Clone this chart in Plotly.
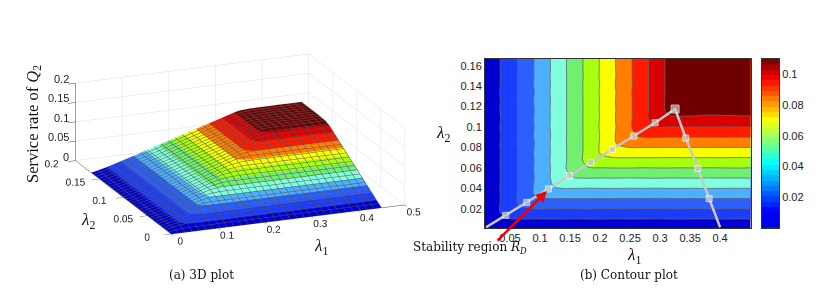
import plotly.graph_objects as go

lambda1 = [0, 0.0225, 0.045, 0.0675, 0.09, 0.1125, 0.135, 0.1575, 0.18, 0.2025, 0.225,
           0.2475, 0.27, 0.2925, 0.315, 0.3375, 0.36, 0.3825, 0.405, 0.4275, 0.451]
lambda2 = [0, 0.00835, 0.0167, 0.02505, 0.0334, 0.04175, 0.0501, 0.05845, 0.0668, 0.07515, 0.0835,
           0.09185, 0.1002, 0.10855, 0.1169, 0.12525, 0.1336, 0.14195, 0.1503, 0.15865, 0.167]
# service rate, in units of 1e-4, one row per lambda2
rate_e4 = [
 [0, 2, 2, 3, 3, 2, 3, 2, 3, 3, 2, 3, 2, 3, 2, 3, 3, 2, 3, 2, 3],
 [2, 64, 84, 85, 83, 84, 85, 83, 84, 86, 83, 84, 85, 83, 84, 85, 84, 83, 85, 84, 84],
 [2, 66, 137, 165, 167, 168, 166, 167, 169, 166, 167, 168, 166, 167, 168, 167, 166, 168, 167, 166, 167],
 [3, 63, 139, 219, 250, 252, 249, 251, 253, 250, 251, 252, 250, 249, 251, 252, 250, 251, 252, 250, 251],
 [2, 65, 136, 221, 301, 333, 336, 334, 333, 335, 334, 332, 335, 334, 333, 335, 334, 336, 333, 334, 335],
 [3, 64, 140, 217, 304, 386, 417, 419, 416, 418, 420, 417, 418, 416, 419, 418, 417, 420, 418, 417, 418],
 [2, 62, 138, 220, 299, 383, 466, 499, 503, 500, 502, 499, 501, 503, 500, 501, 502, 499, 501, 500, 502],
 [3, 66, 136, 218, 302, 381, 468, 549, 587, 584, 586, 588, 583, 585, 587, 584, 586, 583, 585, 587, 584],
 [2, 63, 139, 221, 300, 386, 463, 552, 631, 666, 670, 667, 669, 671, 666, 668, 670, 667, 669, 668, 667],
 [3, 65, 135, 217, 303, 382, 467, 546, 634, 714, 750, 754, 751, 748, 753, 752, 749, 754, 751, 750, 752],
 [2, 64, 140, 222, 298, 385, 465, 551, 628, 716, 796, 833, 836, 838, 833, 835, 837, 834, 835, 837, 834],
 [3, 62, 137, 218, 303, 380, 468, 547, 633, 711, 799, 878, 917, 921, 918, 920, 917, 919, 921, 918, 919],
 [2, 66, 138, 220, 300, 386, 464, 550, 630, 717, 794, 881, 961, 1003, 1000, 1004, 1001, 1002, 999, 1003, 1002],
 [3, 63, 135, 221, 302, 383, 467, 548, 632, 713, 798, 876, 963, 1043, 1085, 1088, 1084, 1080, 1083, 1086, 1087],
 [2, 65, 139, 217, 299, 385, 465, 551, 629, 715, 795, 880, 959, 1046, 1125, 1135, 1138, 1130, 1134, 1132, 1136],
 [3, 64, 136, 222, 304, 381, 468, 546, 633, 712, 798, 877, 963, 1041, 1128, 1140, 1146, 1141, 1138, 1144, 1140],
 [2, 66, 140, 218, 298, 386, 463, 552, 630, 716, 794, 881, 960, 1045, 1124, 1144, 1150, 1147, 1142, 1146, 1149],
 [3, 63, 137, 220, 303, 382, 467, 547, 634, 711, 799, 876, 962, 1042, 1127, 1141, 1148, 1152, 1150, 1147, 1151],
 [2, 65, 135, 221, 300, 385, 464, 551, 628, 717, 795, 880, 959, 1046, 1123, 1146, 1151, 1149, 1153, 1150, 1148],
 [3, 62, 139, 217, 302, 381, 468, 548, 632, 713, 797, 878, 963, 1041, 1128, 1143, 1147, 1152, 1149, 1153, 1150],
 [2, 64, 137, 220, 299, 384, 465, 550, 630, 715, 796, 879, 961, 1044, 1125, 1145, 1150, 1148, 1152, 1149, 1151],
]
rate = [[v / 10000 for v in row] for row in rate_e4]

boundary_lambda1 = [0.01, 0.0428, 0.0778, 0.1139, 0.1489, 0.1844, 0.2206, 0.2561, 0.2917, 0.325,
                    0.3428, 0.3628, 0.3817, 0.4]
boundary_lambda2 = [0.0018, 0.0135, 0.0262, 0.0393, 0.0523, 0.0654, 0.0781, 0.0912, 0.1042, 0.1176,
                    0.0892, 0.0595, 0.0298, 0.0018]

colorbar_levels = [0.0017, 0.0052, 0.0086, 0.012, 0.0155, 0.0189, 0.0223, 0.0258, 0.0292, 0.0327, 0.0361,
                   0.0395, 0.043, 0.0464, 0.0498, 0.0533, 0.0567, 0.0602, 0.0636, 0.067, 0.0705, 0.0739,
                   0.0773, 0.0808, 0.0842, 0.0877, 0.0911, 0.0945, 0.098, 0.1014, 0.1048, 0.1083]

z_ticks = [0, 0.05, 0.1, 0.15, 0.2]
z_tick_labels = ["0", "0.05", "0.1", "0.15", "0.2"]

band_colors = ["#0000d0", "#1a3cff", "#2a60ff", "#4db0ff", "#80ffe0", "#70f070",
               "#a8ff10", "#f8ff00", "#ff8000", "#ff1a00", "#d80000", "#700000"]
n = len(band_colors)
scale = []
for i, c in enumerate(band_colors):
    scale += [[i / n, c], [(i + 1) / n, c]]
jet_scale = [[0, "#0000e0"], [0.1, "#0000ff"], [0.38, "#00ffff"], [0.64, "#ffff00"], [0.88, "#ff0000"], [1, "#6a0000"]]

fig = go.Figure()
fig.add_trace(go.Surface(
    x=lambda1, y=lambda2, z=rate, colorscale=scale, cmin=0, cmax=0.12, showscale=False,
    lighting=dict(ambient=1, diffuse=0, specular=0, roughness=1, fresnel=0),
    contours=dict(
        x=dict(show=True, start=0, end=0.451, size=0.015, color="#555555", width=1),
        y=dict(show=True, start=0, end=0.167, size=0.0056, color="#555555", width=1),
    ),
))
fig.add_trace(go.Contour(
    x=lambda1, y=lambda2, z=rate, xaxis="x", yaxis="y", showscale=False,
    colorscale=scale, zmin=0, zmax=0.12, autocontour=False,
    contours=dict(start=0.01, end=0.11, size=0.01, coloring="fill", showlines=True),
    line=dict(color="#666666", width=0.8),
))
fig.add_trace(go.Scatter(
    x=boundary_lambda1, y=boundary_lambda2, mode="lines+markers", xaxis="x", yaxis="y",
    line=dict(color="#c8c8c8", width=2.5),
    marker=dict(symbol="square", size=[0, 6, 6, 6, 6, 6, 6, 6, 6, 8, 6, 6, 6, 0], color="#c8c8c8"),
    showlegend=False, hoverinfo="skip",
))
fig.add_trace(go.Heatmap(
    x=[0, 1], y=colorbar_levels, z=[[v, v] for v in colorbar_levels], xaxis="x2", yaxis="y2",
    colorscale=jet_scale, zmin=0, zmax=0.11, showscale=False, hoverinfo="skip",
))

tickfont = dict(family="Liberation Sans", size=11, color="#222222")
axis3d = dict(showbackground=False, gridcolor="#dedede", gridwidth=1, linecolor="#444444", linewidth=1,
              showspikes=False, zeroline=False, ticks="outside", ticklen=3, tickcolor="#444444",
              tickfont=tickfont, title=dict(text=""), tickangle=0)
OFF = 8  # page body margin
fig.update_layout(
    width=822, height=291, margin=dict(l=0, r=0, t=0, b=0, autoexpand=False), showlegend=False,
    paper_bgcolor="white", plot_bgcolor="white", font=dict(family="Liberation Sans"),
    scene=dict(
        domain=dict(x=[0, (240 - OFF) * 2 / 822], y=[1 - (144 - OFF) * 2 / 291, 1]),
        aspectmode="manual", aspectratio=dict(x=1.85, y=1.88, z=0.6),
        camera=dict(eye=dict(x=-0.46, y=-1.14, z=0.40), center=dict(x=0, y=0, z=0),
                    up=dict(x=0, y=0, z=1), projection=dict(type="orthographic")),
        xaxis=dict(axis3d, ticklen=8, range=[0, 0.5], tickvals=[0, 0.1, 0.2, 0.3, 0.4, 0.5], ticktext=["0", "0.1", "0.2", "0.3", "0.4", "0.5"]),
        yaxis=dict(axis3d, ticklen=6, range=[0, 0.2], tickvals=[0, 0.05, 0.1, 0.15, 0.2], ticktext=["0", "0.05", "0.1", "0.15", "0.2"]),
        zaxis=dict(axis3d, range=[0, 0.2], tickvals=z_ticks, ticktext=[""] * len(z_ticks)),
        annotations=[dict(x=0, y=0.2, z=v, text=t, showarrow=False, xanchor="right", yanchor="middle",
                          xshift=-5, yshift=4, font=tickfont) for v, t in zip(z_ticks, z_tick_labels)],
    ),
    xaxis=dict(domain=[(485 - OFF) / 822, (750.7 - OFF) / 822], range=[0.0083, 0.451], tickvals=[0.05, 0.1, 0.15, 0.2, 0.25, 0.3, 0.35, 0.4],
               ticktext=["0.05", "0.1", "0.15", "0.2", "0.25", "0.3", "0.35", "0.4"], ticks="", tickfont=tickfont,
               showgrid=False, zeroline=False, showline=True, linecolor="#333333", mirror=True),
    yaxis=dict(domain=[1 - (228 - OFF) / 291, 1 - (59 - OFF) / 291], range=[0.0011, 0.1666],
               tickvals=[0.02, 0.04, 0.06, 0.08, 0.1, 0.12, 0.14, 0.16],
               ticktext=["0.02", "0.04", "0.06", "0.08", "0.1", "0.12", "0.14", "0.16"], ticks="", tickfont=tickfont,
               showgrid=False, zeroline=False, showline=True, linecolor="#333333", mirror=True),
    xaxis2=dict(domain=[(762 - OFF) / 822, (779 - OFF) / 822], range=[0, 1], anchor="y2", showticklabels=False, ticks="",
                showgrid=False, zeroline=False, showline=True, linecolor="#333333", mirror=True),
    yaxis2=dict(domain=[1 - (228 - OFF) / 291, 1 - (59 - OFF) / 291], range=[0, 0.11], anchor="x2", side="right",
                tickvals=[0.02, 0.04, 0.06, 0.08, 0.1], ticktext=["0.02", "0.04", "0.06", "0.08", "0.1"],
                ticks="", tickfont=tickfont, showgrid=False, zeroline=False, showline=True, linecolor="#333333", mirror=True),
)

serif = "Liberation Serif"
def label(x, y, text, size, angle=0, family=serif):
    fig.add_annotation(xref="paper", yref="paper", x=(x - OFF) / 822, y=1 - (y - OFF) / 291, text=text, showarrow=False,
                       xanchor="center", yanchor="middle", textangle=angle,
                       font=dict(family=family, size=size, color="#111111"))

label(33, 124, "Service rate of <i>Q</i><sub>2</sub>", 16.5, -90)
label(88, 221, "<i>λ</i><sub>2</sub>", 17)
label(321, 247, "<i>λ</i><sub>1</sub>", 17)
label(443, 134, "<i>λ</i><sub>2</sub>", 17)
label(634, 256, "<i>λ</i><sub>1</sub>", 17)
label(201, 275, "(a) 3D plot", 12, family="DejaVu Serif")
label(629, 275, "(b) Contour plot", 12, family="DejaVu Serif")
label(470, 248, "Stability region <i>R<sub>D</sub></i>", 12, family="DejaVu Serif")
fig.add_annotation(xref="x", yref="y", x=0.1117, y=0.0373, axref="pixel", ayref="pixel", ax=-51, ay=51, text="",
                   showarrow=True, arrowcolor="#f00000", arrowwidth=2.5, arrowhead=2, arrowsize=0.9)

fig.write_html("out.html")
